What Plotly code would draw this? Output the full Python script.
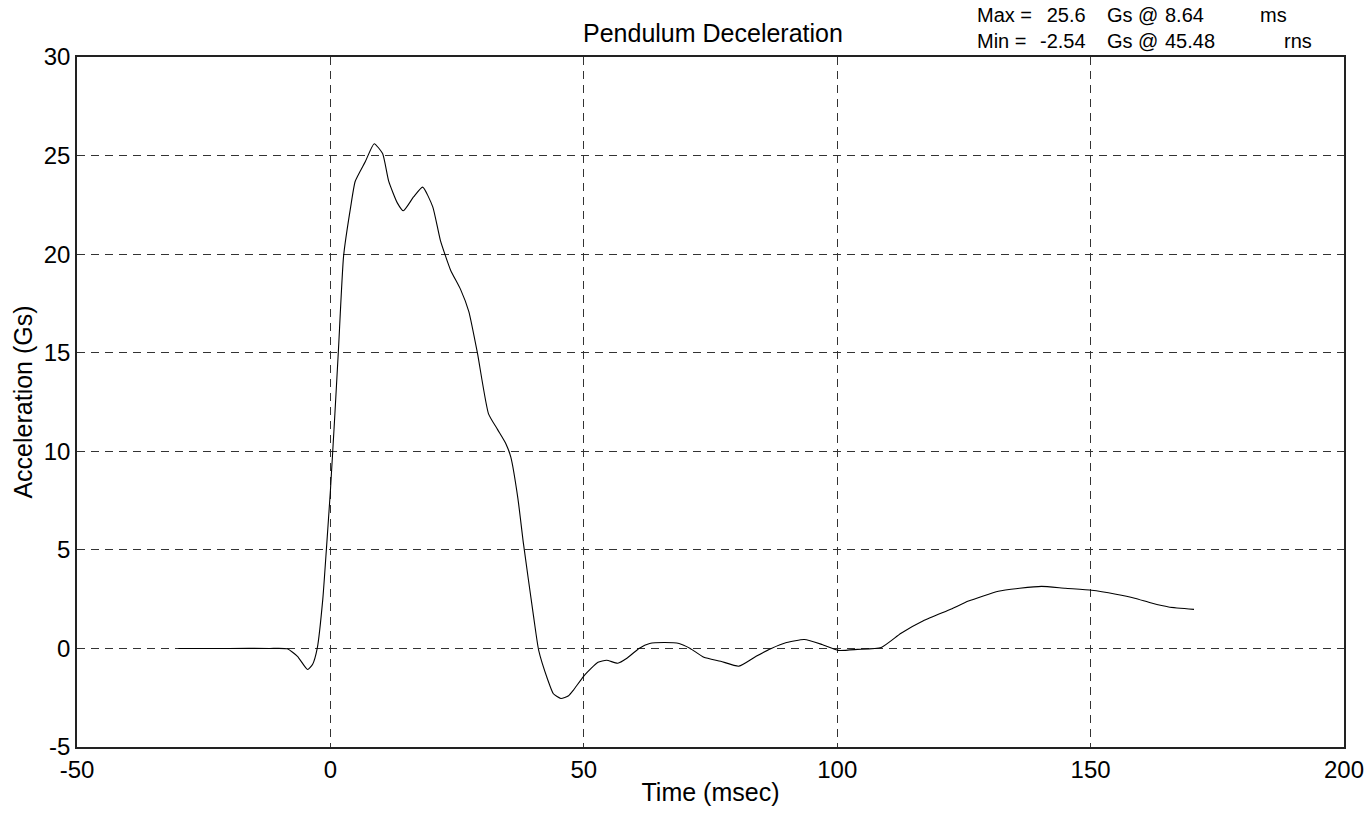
import plotly.graph_objects as go

# Data (time in msec, acceleration in Gs)
time_ms = [-30, -20, -12, -8.5, -6.5, -4.5, -3.5, -2.6, -1.5, -0.8, 0, 0.8, 1.6, 2.6, 4, 4.9, 6.9,
           8.64, 10.3, 11.5, 13.2, 14.4, 16.4, 18.2, 20.2, 21.7, 23.7, 25.7, 27.3, 29, 31.2, 33, 34.6,
           35.6, 37, 38.1, 40.1, 41.1, 42.9, 44, 45.48, 47, 48, 50, 52.8, 54.5, 56.7, 58.5, 60.9,
           63, 65.8, 68.8, 71, 73.7, 77, 80.6, 84, 87, 90, 93.5, 97, 100.2, 104, 108.7, 112.6, 117,
           122.5, 125.9, 131.8, 136, 140.3, 145, 150.2, 155, 158.7, 162, 165.4, 170.4]
accel_gs = [0, 0, 0, -0.02, -0.4, -1.07, -0.8, 0, 2.5, 5.0, 8.0, 11.5, 15.2, 19.9, 22.4, 23.7, 24.7,
            25.6, 25.1, 23.7, 22.6, 22.2, 22.9, 23.4, 22.4, 20.7, 19.2, 18.2, 17.1, 15.0, 11.9, 11.1, 10.4,
            9.7, 7.6, 5.3, 1.6, -0.1, -1.6, -2.3, -2.54, -2.4, -2.1, -1.4, -0.7, -0.6, -0.75, -0.5, 0,
            0.25, 0.3, 0.25, 0, -0.45, -0.65, -0.9, -0.4, 0, 0.3, 0.45, 0.2, -0.1, -0.05, 0.05, 0.77, 1.4,
            2.0, 2.4, 2.9, 3.05, 3.15, 3.05, 2.95, 2.75, 2.55, 2.3, 2.1, 1.98]

x_ticks = [-50, 0, 50, 100, 150, 200]
y_ticks = [-5, 0, 5, 10, 15, 20, 25, 30]

title_text = "Pendulum Deceleration"
x_title = "Time (msec)"
y_title = "Acceleration (Gs)"
stat_labels = ["Max =", "Min ="]
stat_peaks = ["25.6", "-2.54"]
stat_times = ["8.64", "45.48"]
stat_units = ["ms", "rns"]

FONT = "Liberation Sans, Arial, sans-serif"
W, H = 1368, 813
L, R, T, B = 77, 24, 57, 66
PW, PH = W - L - R, H - T - B


def px_x(px):
    return (px - L) / PW


def px_y(py):
    return 1 + (T - py) / PH


fig = go.Figure()
fig.add_trace(go.Scatter(x=time_ms, y=accel_gs, mode="lines",
                         line=dict(color="black", width=1.1, shape="spline", smoothing=0.5),
                         showlegend=False, hoverinfo="skip"))

axis_common = dict(showline=True, mirror=True, linecolor="#222", linewidth=1.5,
                   showgrid=True, gridcolor="#333", gridwidth=1, griddash="8px,6px",
                   zeroline=False, ticks="", automargin=False,
                   tickfont=dict(family=FONT, size=24, color="black"))

fig.update_xaxes(range=[-50, 200], tickvals=x_ticks, ticktext=[str(v) for v in x_ticks],
                 title=dict(text=x_title, font=dict(family=FONT, size=25, color="black"), standoff=2),
                 **axis_common)
fig.update_yaxes(range=[-5, 30], tickvals=y_ticks, ticktext=[str(v) for v in y_ticks],
                 title=dict(text=y_title, font=dict(family=FONT, size=25, color="black"), standoff=4),
                 **axis_common)

stat_font = dict(family=FONT, size=20, color="black")
annotations = [dict(text=title_text, xref="paper", yref="paper",
                    x=px_x(713), y=px_y(33), xanchor="center", yanchor="middle", showarrow=False,
                    font=dict(family=FONT, size=25, color="black"))]
block_y = px_y(28)
columns = [
    ("<br>".join(stat_labels), 975, "left"),
    ("<br>".join(stat_peaks), 1088, "right"),
    ("<br>".join(["Gs @"] * len(stat_labels)), 1105, "left"),
    ("<br>".join(stat_times), 1163, "left"),
]
for txt, xx, anc in columns:
    annotations.append(dict(text=txt, xref="paper", yref="paper", x=px_x(xx), y=block_y,
                            xanchor=anc, yanchor="middle", align=anc, showarrow=False,
                            font=stat_font))
unit_x = [1258, 1282]
unit_y = [15, 41]
for un, ux, uy in zip(stat_units, unit_x, unit_y):
    annotations.append(dict(text=un, xref="paper", yref="paper", x=px_x(ux), y=px_y(uy),
                            xanchor="left", yanchor="middle", showarrow=False, font=stat_font))

fig.update_layout(width=W, height=H, margin=dict(l=L, r=R, t=T, b=B, pad=0),
                  paper_bgcolor="white", plot_bgcolor="white",
                  annotations=annotations, showlegend=False)

fig.write_html("out.html", config={"displayModeBar": False},
               post_script="document.body.style.margin='0';document.body.style.overflow='hidden';")
